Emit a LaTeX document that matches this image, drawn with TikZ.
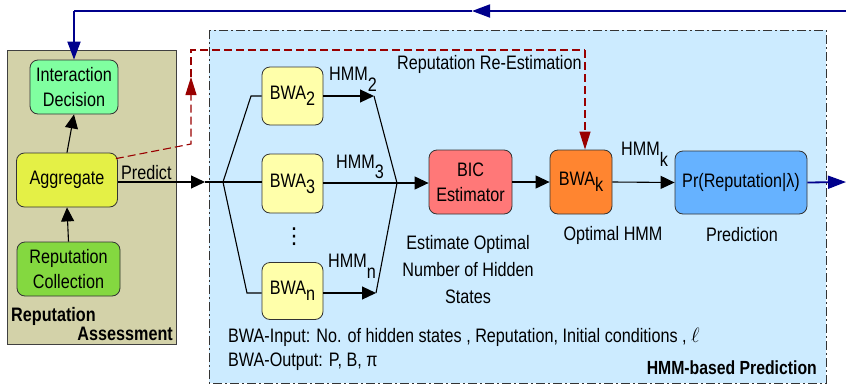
\documentclass[tikz,border=0pt]{standalone}
\usepackage{fontspec}
\setmainfont{Liberation Sans}[FakeStretch=0.83]
\newfontfamily\symfont{DejaVu Sans}
\usetikzlibrary{arrows.meta}
\definecolor{panelolive}{HTML}{D3D2A9}
\definecolor{panelblue}{HTML}{CCEBFF}
\definecolor{idgreen}{HTML}{80FFA0}
\definecolor{agyellow}{HTML}{E4F046}
\definecolor{rcgreen}{HTML}{84D840}
\definecolor{bwayellow}{HTML}{FFFFAA}
\definecolor{bicred}{HTML}{FF7878}
\definecolor{bwakorange}{HTML}{FF8530}
\definecolor{prblue}{HTML}{66B2FF}
\definecolor{navy}{HTML}{00008C}
\definecolor{darkred}{HTML}{990000}
\newcommand{\subdown}[2][0.3em]{\raisebox{-#1}{#2}}
\newcommand{\bodyfont}{\fontsize{19.5}{25}\selectfont}
\begin{document}
\begin{tikzpicture}[x=1pt,y=-1pt,
  every node/.style={font=\bodyfont,inner sep=0pt},
  box/.style={draw=black!80,line width=0.8pt,rounded corners=8pt,align=center},
  conn/.style={line width=1.1pt},
  arr/.style={conn,-{Triangle[length=14pt,width=13pt]}},
  bluearr/.style={draw=navy,line width=1.8pt,-{Triangle[length=18pt,width=13pt]}},
  blueline/.style={draw=navy,line width=1.8pt},
  reddash/.style={draw=darkred,line width=1.1pt,dash pattern=on 8pt off 4pt},
  redarr/.style={reddash,-{Triangle[length=18pt,width=11pt,fill=darkred]}},
  panelframe/.style={draw=black!80,line width=0.9pt,dash pattern=on 9pt off 3pt on 2pt off 3pt},
  caption/.style={align=center}]
\useasboundingbox (0,0) rectangle (846,386);

% panels
\path[fill=panelolive,draw=black!75,line width=0.9pt] (7,50) rectangle (176,344);
\path[fill=panelblue,panelframe] (209,30) rectangle (826,383);

% reputation assessment side
\node[box,fill=idgreen,minimum width=88pt,minimum height=54pt] (idec) at (74,87) {Interaction\\Decision};
\node[box,fill=agyellow,minimum width=101pt,minimum height=54pt] (agg) at (67,180) {Aggregate};
\node[box,fill=rcgreen,minimum width=103pt,minimum height=54pt] (rcol) at (68.5,269) {Reputation\\Collection};
\node[anchor=west,font=\bodyfont\bfseries] (ratitle1) at (11,316) {Reputation};
\node[anchor=east,font=\bodyfont\bfseries] (ratitle2) at (173,334) {Assessment};
\draw[arr] (rcol.north) -- (agg.south);
\draw[arr] (agg.north) -- (idec.south);

% HMM-based prediction side
\node[box,fill=bwayellow,minimum width=61pt,minimum height=58pt] (bwa2) at (292.5,96) {BWA\subdown{2}};
\node[box,fill=bwayellow,minimum width=61pt,minimum height=59pt] (bwa3) at (292.5,183.5) {BWA\subdown{3}};
\node[box,fill=bwayellow,minimum width=61pt,minimum height=57pt] (bwan) at (292.5,291) {BWA\subdown{n}};
\node[font=\symfont\fontsize{22}{22}\selectfont] (vdots) at (294,237) {⋮};
\node[box,fill=bicred,minimum width=83pt,minimum height=64pt] (bic) at (470.5,182) {BIC\\Estimator};
\node[box,fill=bwakorange,minimum width=62pt,minimum height=64pt] (bwak) at (581,182) {BWA\subdown{k}};
\node[box,fill=prblue,minimum width=132pt,minimum height=63pt] (pr) at (741,182.5) {Pr(Reputation|λ)};

% predict input and fan-out
\coordinate (ptip) at (205,182);
\coordinate (split) at (223,182);
\coordinate (up2) at (251,96);
\coordinate (upn) at (247,293);
\draw[arr] (agg.east |- ptip) -- (ptip);
\node[anchor=south west] (predict) at (121,180) {Predict};
\draw[conn] (ptip) -- (split) -- (split -| bwa3.west);
\draw[conn] (split) -- (up2) -- (up2 -| bwa2.west);
\draw[conn] (split) -- (upn) -- (upn -| bwan.west);

% fan-in to the BIC estimator
\coordinate (h2tip) at (374,96);
\coordinate (hntip) at (376,293);
\coordinate (join) at (397,183);
\draw[arr] (bwa2.east |- h2tip) -- (h2tip);
\draw[arr] (bwan.east |- hntip) -- (hntip);
\draw[conn] (h2tip) -- (join);
\draw[conn] (hntip) -- (join);
\draw[arr] (bwa3.east |- join) -- (join -| bic.west);
\node[anchor=west] (hmm2) at (329,79) {HMM\subdown[0.55em]{2}};
\node[anchor=west] (hmm3) at (336,167) {HMM\subdown[0.55em]{3}};
\node[anchor=west] (hmmn) at (328,266) {HMM\subdown[0.55em]{n}};

\draw[arr] (bic.east) -- (bwak.west);
\draw[arr] (bwak.east) -- (pr.west);
\node[anchor=west] (hmmk) at (621,154) {HMM\subdown[0.55em]{k}};

% captions
\node[caption] (bictext) at (468,270) {Estimate Optimal\\[2pt]Number of Hidden\\[2pt]States};
\node (opttext) at (613,235) {Optimal HMM};
\node (predtext) at (742,235) {Prediction};
\node[anchor=west] (bwain) at (228,337) {BWA-Input: No. of hidden states , Reputation, Initial conditions , $\ell$};
\node[anchor=west] (bwaout) at (228,362) {BWA-Output: P, B, π};
\node[anchor=east,font=\fontsize{19}{22}\selectfont\bfseries] (hmmtitle) at (817,368) {HMM-based Prediction};

% reputation re-estimation feedback
\coordinate (rbend) at (191,144);
\coordinate (rtip) at (191,77);
\coordinate (rtop) at (191,50);
\coordinate (rright) at (585,50);
\draw[redarr] (agg.north east) ++(-2,6) -- (rbend) -- (rtip);
\draw[reddash] (rtip) -- (rtop) -- (rright);
\draw[redarr] (rright) -- (rright |- bwak.north);
\node[anchor=west] (reest) at (397,64) {Reputation Re-Estimation};

% prediction output and loop back to the decision
\coordinate (outr) at (846,182);
\coordinate (topr) at (846,11);
\coordinate (topmid) at (472,11);
\coordinate (topl) at (74,11);
\draw[bluearr] (pr.east) -- (outr);
\draw[bluearr] (topr) -- (topmid);
\draw[blueline] (topmid) -- (topl);
\draw[bluearr] (topl) -- (idec.north);
\end{tikzpicture}
\end{document}
